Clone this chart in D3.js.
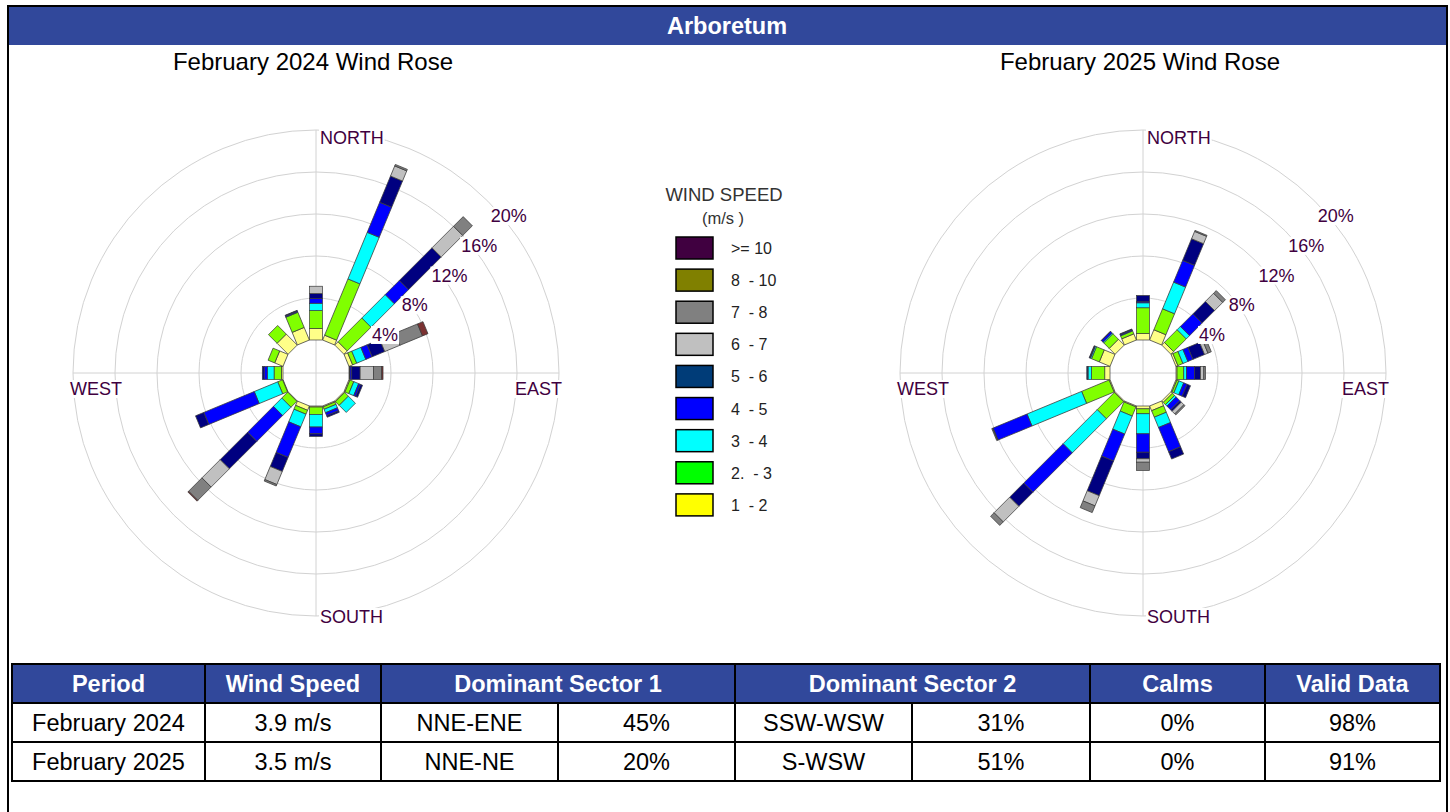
<!DOCTYPE html>
<html>
<head>
<meta charset="utf-8">
<script src="https://cdn.jsdelivr.net/npm/d3@7"></script>
<style>
  body { margin: 0; background: #fff; }
  svg { display: block; font-family: Arial, "Liberation Sans", sans-serif; }
</style>
</head>
<body>
<div id="chart"></div>
<script>
let w = 1450;
let h = 812;

// wind directions, 16 sectors clockwise from north
const directions = ["N","NNE","NE","ENE","E","ESE","SE","SSE","S","SSW","SW","WSW","W","WNW","NW","NNW"];
const speedClasses = ["1  - 2","2.  - 3","3  - 4","4  - 5","5  - 6","6  - 7","7  - 8","8  - 10",">= 10"];
const legendColors = ["#ffff00","#00ff00","#00ffff","#0000ff","#003c78","#c0c0c0","#808080","#808000","#400040"];
const roseColors = ["#ffff88","#80ff00","#00ffff","#0000ff","#000080","#c0c0c0","#808080","#808000","#7b3232"];

// percent of hours per direction, per speed class (1-2 ... >=10)
const feb2024 = [
  [1.10, 1.70, 0.70, 0.45, 0.47, 0.70, 0.00, 0, 0.00],
  [0.50, 5.80, 4.80, 3.10, 2.70, 1.05, 0.15, 0, 0.00],
  [0.45, 3.20, 3.15, 1.90, 4.40, 2.90, 1.30, 0, 0.00],
  [0.38, 0.42, 0.94, 0.65, 1.30, 1.56, 2.33, 0, 0.56],
  [0.05, 0.05, 0.00, 0.16, 0.80, 1.26, 0.80, 0, 0.12],
  [0.10, 0.40, 0.50, 0.20, 0.20, 0.00, 0.00, 0, 0.00],
  [0.10, 0.50, 0.95, 0.00, 0.00, 0.00, 0.00, 0, 0.00],
  [0.10, 0.25, 0.35, 0.30, 0.16, 0.00, 0.00, 0, 0.00],
  [0.10, 0.70, 1.20, 0.65, 0.25, 0.00, 0.00, 0, 0.00],
  [0.45, 0.40, 1.30, 3.15, 1.45, 1.35, 0.15, 0, 0.00],
  [0.05, 0.80, 1.12, 3.48, 3.70, 2.45, 1.80, 0, 0.10],
  [0.05, 0.50, 2.42, 5.20, 0.85, 0.00, 0.00, 0, 0.00],
  [0.15, 0.70, 0.65, 0.30, 0.17, 0.00, 0.00, 0, 0.00],
  [0.86, 0.68, 0.00, 0.00, 0.00, 0.00, 0.00, 0, 0.00],
  [1.48, 1.16, 0.00, 0.00, 0.00, 0.00, 0.00, 0, 0.00],
  [1.30, 1.56, 0.05, 0.10, 0.05, 0.00, 0.00, 0, 0.00]
];
const feb2025 = [
  [0.62, 2.45, 0.47, 0.10, 0.60, 0.00, 0.00, 0, 0],
  [1.06, 2.16, 2.75, 2.24, 2.23, 0.76, 0.10, 0, 0],
  [0.36, 1.71, 0.44, 1.69, 1.68, 1.10, 0.36, 0, 0],
  [0.20, 0.52, 0.51, 0.52, 1.20, 0.35, 0.34, 0, 0],
  [0.10, 0.64, 0.26, 0.76, 0.57, 0.32, 0.16, 0, 0],
  [0.10, 0.20, 0.50, 0.35, 0.35, 0.00, 0.00, 0, 0],
  [0.20, 0.30, 0.20, 0.50, 0.20, 0.35, 0.14, 0, 0],
  [0.49, 0.67, 1.06, 2.50, 0.75, 0.00, 0.00, 0, 0],
  [0.27, 0.47, 1.91, 1.75, 0.63, 0.32, 0.79, 0, 0],
  [0.10, 0.94, 1.86, 2.78, 3.57, 1.05, 0.69, 0, 0],
  [0.10, 2.31, 4.59, 5.30, 1.90, 2.10, 0.47, 0, 0],
  [0.10, 2.83, 5.63, 3.50, 0.05, 0.00, 0.08, 0, 0],
  [0.50, 1.27, 0.32, 0.06, 0.06, 0.00, 0.00, 0, 0],
  [1.11, 0.80, 0.12, 0.06, 0.06, 0.00, 0.00, 0, 0],
  [0.79, 0.74, 0.10, 0.20, 0.04, 0.00, 0.00, 0, 0],
  [0.64, 0.30, 0.05, 0.10, 0.05, 0.00, 0.00, 0, 0]
];
const ringTicks = [4, 8, 12, 16, 20];
const roseTitles = ["February 2024 Wind Rose", "February 2025 Wind Rose"];

// summary table
const tableHeaders = ["Period", "Wind Speed", "Dominant Sector 1", "Dominant Sector 2", "Calms", "Valid Data"];
const periods = ["February 2024", "February 2025"];
const windSpeeds = ["3.9 m/s", "3.5 m/s"];
const sector1 = ["NNE-ENE", "NNE-NE"];
const sector1Pct = ["45%", "20%"];
const sector2 = ["SSW-WSW", "S-WSW"];
const sector2Pct = ["31%", "51%"];
const calms = ["0%", "0%"];
const validData = ["98%", "91%"];

let svg = d3.select("#chart")
    .append("svg")
    .attr("width", w)
    .attr("height", h);

// frame + header band
svg.append("rect").attr("x", 8).attr("y", 6).attr("width", 1439).attr("height", 39).attr("fill", "#31489b");
svg.append("rect").attr("x", 8).attr("y", 6).attr("width", 1439).attr("height", 812)
    .attr("fill", "none").attr("stroke", "#000").attr("stroke-width", 2);
svg.append("text").attr("x", 727).attr("y", 34).attr("text-anchor", "middle")
    .attr("fill", "#fff").attr("font-weight", "bold").attr("font-size", 23.5).text("Arboretum");

// radius scale shared by both roses
const r = d3.scaleLinear().domain([0, 20]).range([33, 243]);
const barW = 13;
const labelColor = "#400040";

function addLabel(g, x, y, txt, anchor) {
    const t = g.append("text").attr("x", x).attr("y", y).attr("text-anchor", anchor)
        .attr("font-size", 18).attr("fill", labelColor).text(txt);
    const b = t.node().getBBox();
    g.insert("rect", function() { return t.node(); })
        .attr("x", b.x - 1).attr("y", b.y + 1).attr("width", b.width + 2).attr("height", b.height - 2)
        .attr("fill", "#fff");
}

function drawRose(data, cx, cy, title) {
    svg.append("text").attr("x", cx - 3).attr("y", 70).attr("text-anchor", "middle")
        .attr("font-size", 24).attr("fill", "#000").text(title);

    const g = svg.append("g").attr("transform", `translate(${cx},${cy})`);

    g.selectAll("circle.ring").data(ringTicks).enter().append("circle")
        .attr("class", "ring").attr("r", d => r(d))
        .attr("fill", "none").attr("stroke", "#d2d2d2").attr("stroke-width", 1);
    const R = r(20);
    g.append("line").attr("x1", 0).attr("x2", 0).attr("y1", -R).attr("y2", R).attr("stroke", "#d2d2d2");
    g.append("line").attr("x1", -R).attr("x2", R).attr("y1", 0).attr("y2", 0).attr("stroke", "#d2d2d2");

    // stacked bars
    data.forEach(function(vals, i) {
        let cum = 0;
        const segs = vals.map(function(v, k) {
            const s = { k: k, start: cum, end: cum + v };
            cum += v;
            return s;
        }).filter(s => s.end > s.start);
        g.append("g").attr("transform", `rotate(${i * 22.5})`)
            .selectAll("rect").data(segs).enter().append("rect")
            .attr("x", -barW / 2).attr("width", barW)
            .attr("y", d => -r(d.end))
            .attr("height", d => r(d.end) - r(d.start))
            .attr("fill", d => roseColors[d.k])
            .attr("stroke", "#3a3a3a").attr("stroke-width", 0.7);
    });

    // percent ring labels along the NE diagonal
    ringTicks.forEach(function(t) {
        const a = Math.SQRT1_2 * r(t);
        addLabel(g, a + 3, -a + 21, t + "%", "start");
    });

    addLabel(g, 4, -R + 14, "NORTH", "start");
    addLabel(g, 4, R + 7, "SOUTH", "start");
    addLabel(g, -R - 3, 22, "WEST", "start");
    addLabel(g, R + 3, 22, "EAST", "end");
}

drawRose(feb2024, 316, 373, roseTitles[0]);
drawRose(feb2025, 1143, 373, roseTitles[1]);

// legend
const lg = svg.append("g");
lg.append("text").attr("x", 724).attr("y", 201).attr("text-anchor", "middle")
    .attr("font-size", 18.5).attr("fill", "#333").text("WIND SPEED");
lg.append("text").attr("x", 723).attr("y", 224).attr("text-anchor", "middle")
    .attr("font-size", 16.5).attr("fill", "#333").style("white-space", "pre").text("(m/s )");
const legendOrder = d3.range(speedClasses.length).reverse();
const ly = d3.scaleBand().domain(legendOrder).range([233, 522]);
lg.selectAll("rect").data(legendOrder).enter().append("rect")
    .attr("x", 676).attr("y", d => ly(d) + 4).attr("width", 37).attr("height", 22)
    .attr("fill", d => legendColors[d]).attr("stroke", "#000").attr("stroke-width", 1.5);
lg.selectAll("text.lab").data(legendOrder).enter().append("text")
    .attr("class", "lab").attr("x", 731).attr("y", d => ly(d) + 21)
    .attr("font-size", 16).attr("fill", "#222").style("white-space", "pre")
    .text(d => speedClasses[d]);

// table
const colX = [12, 205, 381, 558, 735, 912, 1090, 1265, 1440];
const rowY = [664, 703, 742, 781];
const tg = svg.append("g");
tg.append("rect").attr("x", colX[0]).attr("y", rowY[0]).attr("width", colX[8] - colX[0]).attr("height", rowY[1] - rowY[0])
    .attr("fill", "#31489b");
const headSpans = [[0, 1], [1, 2], [2, 4], [4, 6], [6, 7], [7, 8]];
headSpans.forEach(function(s, i) {
    tg.append("text").attr("x", (colX[s[0]] + colX[s[1]]) / 2).attr("y", (rowY[0] + rowY[1]) / 2)
        .attr("dy", "0.36em").attr("text-anchor", "middle").attr("fill", "#fff")
        .attr("font-weight", "bold").attr("font-size", 23.5).text(tableHeaders[i]);
    if (i > 0) tg.append("line").attr("x1", colX[s[0]]).attr("x2", colX[s[0]])
        .attr("y1", rowY[0]).attr("y2", rowY[1]).attr("stroke", "#000").attr("stroke-width", 2);
});
const rows = periods.map((p, i) => [p, windSpeeds[i], sector1[i], sector1Pct[i], sector2[i], sector2Pct[i], calms[i], validData[i]]);
rows.forEach(function(row, j) {
    row.forEach(function(cell, c) {
        tg.append("text").attr("x", (colX[c] + colX[c + 1]) / 2).attr("y", (rowY[j + 1] + rowY[j + 2]) / 2)
            .attr("dy", "0.36em").attr("text-anchor", "middle").attr("fill", "#000")
            .attr("font-size", 23.5).text(cell);
    });
});
colX.slice(1, 8).forEach(function(x) {
    tg.append("line").attr("x1", x).attr("x2", x).attr("y1", rowY[1]).attr("y2", rowY[3])
        .attr("stroke", "#000").attr("stroke-width", 2);
});
rowY.slice(1, 3).forEach(function(y) {
    tg.append("line").attr("x1", colX[0]).attr("x2", colX[8]).attr("y1", y).attr("y2", y)
        .attr("stroke", "#000").attr("stroke-width", 2);
});
tg.append("rect").attr("x", colX[0]).attr("y", rowY[0]).attr("width", colX[8] - colX[0]).attr("height", rowY[3] - rowY[0])
    .attr("fill", "none").attr("stroke", "#000").attr("stroke-width", 2);
</script>
</body>
</html>
